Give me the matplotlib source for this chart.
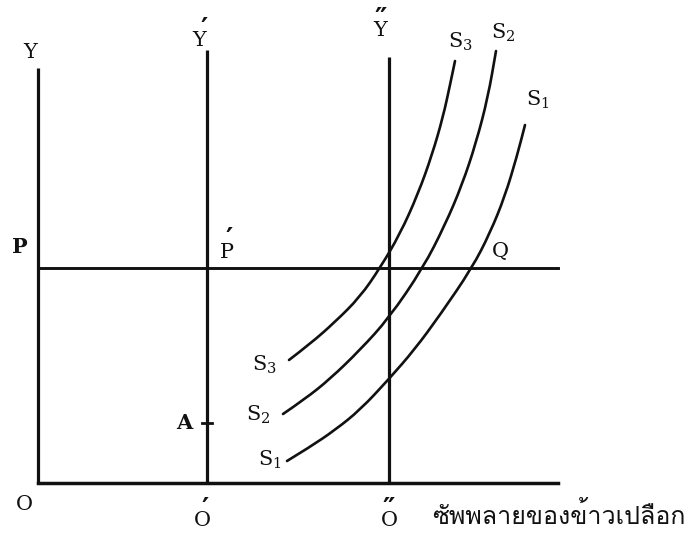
import matplotlib
matplotlib.use("Agg")
import matplotlib.pyplot as plt
from matplotlib import font_manager
from matplotlib.ft2font import FT2Font
from matplotlib.path import Path
from matplotlib.patches import PathPatch

axis_x = [38, 207, 389]          # Y, Y', Y''
axis_top = [415, 433, 426]
axis_right = 558
price_p = 215                    # level of the P ... Q line
a_level = 60                     # point A on the Y' axis

s3_x = [289, 310, 335, 360, 380, 400, 418, 432, 443, 450, 455]
s3_y = [123, 139, 161, 186, 215, 249, 289, 328, 366, 398, 422]
s2_x = [283, 305, 330, 360, 389, 423, 445, 462, 476, 488, 496]
s2_y = [69, 84, 104, 133, 165, 215, 258, 298, 340, 386, 432]
s1_x = [287, 310, 335, 360, 389, 415, 440, 472, 490, 505, 517, 525]
s1_y = [22, 36, 53, 73, 104, 134, 168, 215, 250, 287, 327, 358]

x_label = "ซัพพลายของข้าวเปลือก"

# find a font that has Thai glyphs
thai_font = "DejaVu Sans"
for f in font_manager.fontManager.ttflist:
    try:
        if FT2Font(f.fname).get_char_index(ord("ซ")):
            thai_font = f.name
            break
    except Exception:
        pass

plt.rcParams["mathtext.fontset"] = "dejavuserif"
serif = "DejaVu Serif"

fig = plt.figure(figsize=(6.86, 5.33), dpi=100)
ax = fig.add_axes([0, 0, 1, 1])
ax.set_xlim(0, 686)
ax.set_ylim(-50, 483)
ax.axis("off")

k = "#111111"
# axes
for x, top in zip(axis_x, axis_top):
    ax.plot([x, x], [0, top], color=k, lw=2.3, solid_capstyle="butt")
ax.plot([axis_x[0], axis_right], [0, 0], color=k, lw=2.5)
ax.plot([axis_x[0], axis_right], [price_p, price_p], color=k, lw=2.1)
ax.plot([axis_x[1] - 5, axis_x[1] + 5], [a_level, a_level], color=k, lw=2.0)


def smooth_curve(xs, ys):
    # quadratic pieces through the midpoints, the read points act as controls
    pts = list(zip(xs, ys))
    verts = [pts[0]]
    codes = [Path.MOVETO]
    for i in range(1, len(pts) - 1):
        mid = ((pts[i][0] + pts[i + 1][0]) / 2, (pts[i][1] + pts[i + 1][1]) / 2)
        verts += [pts[i], mid]
        codes += [Path.CURVE3, Path.CURVE3]
    verts.append(pts[-1])
    codes.append(Path.LINETO)
    ax.add_patch(PathPatch(Path(verts, codes), fill=False, edgecolor=k,
                           lw=1.9, capstyle="round"))


for xs, ys in [(s3_x, s3_y), (s2_x, s2_y), (s1_x, s1_y)]:
    smooth_curve(xs, ys)


def lab(x, y, s, size=15, **kw):
    ax.text(x, 483 - y, s, fontsize=size, family=serif, color=k,
            ha="center", va="center", **kw)


def prime(x, y, s="′"):
    # the prime glyph sits high in its box, so the box centre is set lower
    lab(x, y + 8, s, size=20, weight="bold")


lab(30, 53, "Y")
lab(199, 41, "Y")
prime(204, 22)
lab(380, 31, "Y")
prime(381, 13, "″")
lab(20, 247, "P", weight="bold")
lab(227, 252, "P")
prime(229, 233)
lab(500, 252, "Q")
lab(24, 505, "O")
lab(202, 521, "O")
prime(205, 503)
lab(389, 521, "O")
prime(389, 503, "″")
lab(184, 423, "A", weight="bold")

lab(460, 42, r"$\mathrm{S}_3$")
lab(503, 33, r"$\mathrm{S}_2$")
lab(538, 100, r"$\mathrm{S}_1$")
lab(264, 365, r"$\mathrm{S}_3$")
lab(258, 415, r"$\mathrm{S}_2$")
lab(270, 460, r"$\mathrm{S}_1$")

ax.text(432, 483 - 516, x_label, fontsize=18, family=[thai_font, "DejaVu Sans"],
        color=k, ha="left", va="center")

fig.savefig("out.png", dpi=100, facecolor="white")
